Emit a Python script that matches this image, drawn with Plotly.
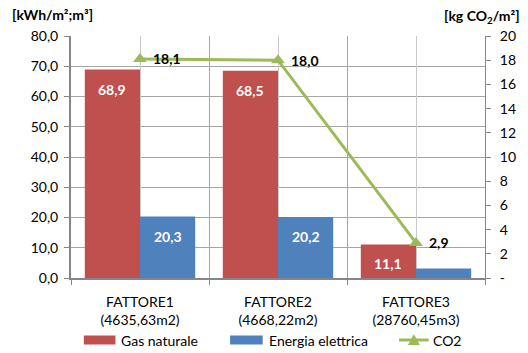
import plotly.graph_objects as go

# Categories and series values
categories = ["FATTORE1<br>(4635,63m2)", "FATTORE2<br>(4668,22m2)", "FATTORE3<br>(28760,45m3)"]
gas_naturale = [68.9, 68.5, 11.1]
energia_elettrica = [20.3, 20.2, 3.1]
co2 = [18.1, 18.0, 2.9]
series_names = ["Gas naturale", "Energia elettrica", "CO2"]

left_ticks = [0, 10, 20, 30, 40, 50, 60, 70, 80]
right_ticks = [0, 2, 4, 6, 8, 10, 12, 14, 16, 18, 20]
right_ticktext = ["-"] + [str(v) for v in right_ticks[1:]]

RED = "#C0504D"
BLUE = "#4F81BD"
GREEN = "#9BBB59"
GRID = "#A6A6A6"
AXIS = "#868686"
FONT = "Lato"

# plot-area size in pixels, used to place legend and titles outside it
PW, PH = 419, 242
CAT_RANGE = [-0.5, len(categories) - 0.5]


def fmt(v):
    return f"{v:.1f}".replace(".", ",")


def dx(px):
    return px / PW


def dy(px):
    return px / PH


fig = go.Figure()

fig.add_trace(go.Bar(
    name=series_names[0], x=categories, y=gas_naturale,
    marker=dict(color=RED, line=dict(width=0)), showlegend=False,
))
fig.add_trace(go.Bar(
    name=series_names[1], x=categories, y=energia_elettrica,
    marker=dict(color=BLUE, line=dict(width=0)), showlegend=False,
))
fig.add_trace(go.Scatter(
    name=series_names[2], x=categories, y=co2, xaxis="x2", yaxis="y2",
    mode="lines+markers",
    line=dict(color=GREEN, width=3),
    marker=dict(symbol="triangle-up", size=12, color=GREEN),
    showlegend=False,
))

annotations = []
# White value labels just inside the top of each bar
for i, (g, e) in enumerate(zip(gas_naturale, energia_elettrica)):
    for off, v in ((-0.2, g), (0.2, e)):
        if v < 8:
            continue
        annotations.append(dict(
            x=i + off, y=v, xref="x", yref="y", yanchor="top", yshift=-9,
            text=fmt(v), showarrow=False,
            font=dict(family=FONT, size=14, color="white", weight="bold"),
        ))

# CO2 value labels to the right of each marker
for i, v in enumerate(co2):
    annotations.append(dict(
        x=i, y=v, xref="x2", yref="y2", xanchor="left", yanchor="middle", xshift=11,
        text=fmt(v), showarrow=False,
        font=dict(family=FONT, size=14, color="black", weight="bold"),
    ))

# Axis unit titles
annotations.append(dict(
    xref="x domain", yref="y domain", x=dx(-62), y=1 + dy(22),
    xanchor="left", yanchor="middle", text="[kWh/m²;m³]", showarrow=False,
    font=dict(family=FONT, size=14, color="black", weight="bold"),
))
annotations.append(dict(
    xref="x domain", yref="y domain", x=1 + dx(37), y=1 + dy(19),
    xanchor="right", yanchor="middle", text="[kg CO<sub>2</sub>/m²]", showarrow=False,
    font=dict(family=FONT, size=14, color="black", weight="bold"),
))

# Legend drawn below the plot: swatches and labels
LEG_Y = -dy(62)
shapes = [
    dict(type="rect", xref="x domain", yref="y domain", x0=dx(13), x1=dx(45),
         y0=LEG_Y - dy(4.5), y1=LEG_Y + dy(4.5), fillcolor=RED, line=dict(width=0)),
    dict(type="rect", xref="x domain", yref="y domain", x0=dx(161), x1=dx(194),
         y0=LEG_Y - dy(4.5), y1=LEG_Y + dy(4.5), fillcolor=BLUE, line=dict(width=0)),
    dict(type="line", xref="x domain", yref="y domain", x0=dx(332), x1=dx(362),
         y0=LEG_Y, y1=LEG_Y, line=dict(color=GREEN, width=3)),
    dict(type="path", xref="x domain", yref="y domain",
         path=f"M {dx(341)} {LEG_Y - dy(5)} L {dx(353)} {LEG_Y - dy(5)} L {dx(347)} {LEG_Y + dy(6)} Z",
         fillcolor=GREEN, line=dict(width=0)),
]
for name, x0 in zip(series_names, (49, 198, 364)):
    annotations.append(dict(
        xref="x domain", yref="y domain", x=dx(x0), y=LEG_Y,
        xanchor="left", yanchor="middle", text=name, showarrow=False,
        font=dict(family=FONT, size=14, color="black"),
    ))

fig.update_layout(
    width=528, height=353,
    margin=dict(l=71, r=38, t=36, b=75),
    paper_bgcolor="white", plot_bgcolor="white",
    separators=",.",
    font=dict(family=FONT, size=14, color="black"),
    barmode="group", bargap=0.2, bargroupgap=0,
    showlegend=False,
    annotations=annotations,
    shapes=shapes,
    xaxis=dict(
        type="category", range=CAT_RANGE, tickson="boundaries", showgrid=True, gridcolor=GRID,
        gridwidth=1, showline=True, linecolor=AXIS, linewidth=2, ticks="outside", ticklen=5,
        tickcolor=AXIS, tickwidth=1, ticklabelstandoff=10,
    ),
    xaxis2=dict(
        type="category", range=CAT_RANGE, overlaying="x", side="bottom", showgrid=True,
        gridcolor="#C8C8C8", showticklabels=False, ticks="", showline=False, zeroline=False,
    ),
    yaxis=dict(
        range=[0, 80], tickvals=left_ticks, tickformat=".1f", showgrid=True, gridcolor=GRID,
        gridwidth=1, showline=True, linecolor=AXIS, linewidth=2, ticks="outside", ticklen=5,
        tickcolor=AXIS, zeroline=False, ticklabelstandoff=3,
    ),
    yaxis2=dict(
        range=[0, 20], tickvals=right_ticks, ticktext=right_ticktext, overlaying="y",
        side="right", anchor="x", showgrid=False, showline=True, linecolor=AXIS, linewidth=1,
        ticks="outside", ticklen=5, tickcolor=AXIS, zeroline=False, ticklabelstandoff=6,
    ),
)

fig.write_html("out.html")
